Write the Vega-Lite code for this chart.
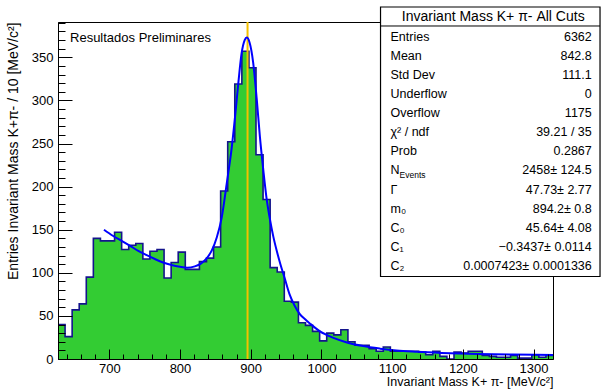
{
  "$schema": "https://vega.github.io/schema/vega-lite/v6.json",
  "width": 495,
  "height": 337,
  "autosize": {"type": "none"},
  "padding": {"left": 58, "top": 22, "right": 49, "bottom": 30},
  "background": "white",
  "config": {"view": {"stroke": "black", "strokeWidth": 1}, "font": "Liberation Sans"},
  "datasets": {
    "bins": [
      {"lo": 627.5, "hi": 637.5, "n": 40}, {"lo": 637.5, "hi": 647.5, "n": 26}, {"lo": 647.5, "hi": 657.5, "n": 57},
      {"lo": 657.5, "hi": 667.5, "n": 64}, {"lo": 667.5, "hi": 677.5, "n": 95}, {"lo": 677.5, "hi": 687.5, "n": 140},
      {"lo": 687.5, "hi": 697.5, "n": 137}, {"lo": 697.5, "hi": 707.5, "n": 137}, {"lo": 707.5, "hi": 717.5, "n": 147},
      {"lo": 717.5, "hi": 727.5, "n": 127}, {"lo": 727.5, "hi": 737.5, "n": 132}, {"lo": 737.5, "hi": 747.5, "n": 134},
      {"lo": 747.5, "hi": 757.5, "n": 116}, {"lo": 757.5, "hi": 767.5, "n": 125}, {"lo": 767.5, "hi": 777.5, "n": 127},
      {"lo": 777.5, "hi": 787.5, "n": 94}, {"lo": 787.5, "hi": 797.5, "n": 112}, {"lo": 797.5, "hi": 807.5, "n": 124},
      {"lo": 807.5, "hi": 817.5, "n": 104}, {"lo": 817.5, "hi": 827.5, "n": 104}, {"lo": 827.5, "hi": 837.5, "n": 113},
      {"lo": 837.5, "hi": 847.5, "n": 117}, {"lo": 847.5, "hi": 857.5, "n": 130}, {"lo": 857.5, "hi": 867.5, "n": 195},
      {"lo": 867.5, "hi": 877.5, "n": 252}, {"lo": 877.5, "hi": 887.5, "n": 319}, {"lo": 887.5, "hi": 897.5, "n": 357},
      {"lo": 897.5, "hi": 907.5, "n": 338}, {"lo": 907.5, "hi": 917.5, "n": 237}, {"lo": 917.5, "hi": 927.5, "n": 185},
      {"lo": 927.5, "hi": 937.5, "n": 106}, {"lo": 937.5, "hi": 947.5, "n": 101}, {"lo": 947.5, "hi": 957.5, "n": 67},
      {"lo": 957.5, "hi": 967.5, "n": 66}, {"lo": 967.5, "hi": 977.5, "n": 42}, {"lo": 977.5, "hi": 987.5, "n": 39},
      {"lo": 987.5, "hi": 997.5, "n": 32}, {"lo": 997.5, "hi": 1007.5, "n": 21}, {"lo": 1007.5, "hi": 1017.5, "n": 30},
      {"lo": 1017.5, "hi": 1027.5, "n": 28}, {"lo": 1027.5, "hi": 1037.5, "n": 34}, {"lo": 1037.5, "hi": 1047.5, "n": 20},
      {"lo": 1047.5, "hi": 1057.5, "n": 16}, {"lo": 1057.5, "hi": 1067.5, "n": 16}, {"lo": 1067.5, "hi": 1077.5, "n": 12},
      {"lo": 1077.5, "hi": 1087.5, "n": 9}, {"lo": 1087.5, "hi": 1097.5, "n": 14}, {"lo": 1097.5, "hi": 1107.5, "n": 9},
      {"lo": 1107.5, "hi": 1117.5, "n": 9}, {"lo": 1117.5, "hi": 1127.5, "n": 9}, {"lo": 1127.5, "hi": 1137.5, "n": 9},
      {"lo": 1137.5, "hi": 1147.5, "n": 8}, {"lo": 1147.5, "hi": 1157.5, "n": 5}, {"lo": 1157.5, "hi": 1167.5, "n": 9},
      {"lo": 1167.5, "hi": 1177.5, "n": 3}, {"lo": 1177.5, "hi": 1187.5, "n": 0}, {"lo": 1187.5, "hi": 1197.5, "n": 8},
      {"lo": 1197.5, "hi": 1207.5, "n": 7}, {"lo": 1207.5, "hi": 1217.5, "n": 9}, {"lo": 1217.5, "hi": 1227.5, "n": 9},
      {"lo": 1227.5, "hi": 1237.5, "n": 4}, {"lo": 1237.5, "hi": 1247.5, "n": 3}, {"lo": 1247.5, "hi": 1257.5, "n": 2},
      {"lo": 1257.5, "hi": 1267.5, "n": 2}, {"lo": 1267.5, "hi": 1277.5, "n": 4}, {"lo": 1277.5, "hi": 1287.5, "n": 1},
      {"lo": 1287.5, "hi": 1297.5, "n": 1}, {"lo": 1297.5, "hi": 1307.5, "n": 5}, {"lo": 1307.5, "hi": 1317.5, "n": 2},
      {"lo": 1317.5, "hi": 1327.5, "n": 4}
    ],
    "fit": [
      {"m": 692.5, "f": 150}, {"m": 705, "f": 143}, {"m": 717.5, "f": 137}, {"m": 730, "f": 131}, {"m": 741, "f": 125.5},
      {"m": 753, "f": 120.5}, {"m": 764.5, "f": 116}, {"m": 776, "f": 112}, {"m": 788, "f": 109}, {"m": 800, "f": 107},
      {"m": 810, "f": 106}, {"m": 821, "f": 107.5}, {"m": 830, "f": 111}, {"m": 838, "f": 117}, {"m": 845, "f": 126},
      {"m": 852, "f": 141}, {"m": 859, "f": 164}, {"m": 866, "f": 203}, {"m": 873, "f": 244}, {"m": 878, "f": 282},
      {"m": 882.5, "f": 320}, {"m": 887, "f": 354}, {"m": 891.5, "f": 370}, {"m": 894.5, "f": 373}, {"m": 898.5, "f": 367},
      {"m": 903.5, "f": 344}, {"m": 908.5, "f": 302}, {"m": 913, "f": 258}, {"m": 918, "f": 218}, {"m": 922.5, "f": 186},
      {"m": 927, "f": 163}, {"m": 932, "f": 142}, {"m": 937, "f": 125}, {"m": 942, "f": 110}, {"m": 948, "f": 94},
      {"m": 955, "f": 75}, {"m": 962, "f": 62}, {"m": 969.5, "f": 52}, {"m": 977, "f": 46}, {"m": 984, "f": 41},
      {"m": 998, "f": 32}, {"m": 1017, "f": 24.5}, {"m": 1035, "f": 19.5}, {"m": 1059, "f": 15}, {"m": 1083, "f": 12},
      {"m": 1106, "f": 9.8}, {"m": 1135, "f": 8.3}, {"m": 1170, "f": 7}, {"m": 1220, "f": 5.8}, {"m": 1270, "f": 5.2},
      {"m": 1327.5, "f": 4.6}
    ],
    "stats": [
      {"row": 1, "label": "Entries", "val": "6362"},
      {"row": 2, "label": "Mean", "val": "842.8"},
      {"row": 3, "label": "Std Dev", "val": "111.1"},
      {"row": 4, "label": "Underflow", "val": "0"},
      {"row": 5, "label": "Overflow", "val": "1175"},
      {"row": 6, "label": "χ² / ndf", "val": "39.21 / 35"},
      {"row": 7, "label": "Prob", "val": "0.2867"},
      {"row": 8, "label": "N", "sub": "Events", "val": "2458± 124.5"},
      {"row": 9, "label": "Γ", "val": "47.73± 2.77"},
      {"row": 10, "label": "m₀", "val": "894.2± 0.8"},
      {"row": 11, "label": "C₀", "val": "45.64± 4.08"},
      {"row": 12, "label": "C₁", "val": "−0.3437± 0.0114"},
      {"row": 13, "label": "C₂", "val": "0.0007423± 0.0001336"}
    ]
  },
  "layer": [
    {
      "layer": [
        {
          "data": {"name": "bins"},
          "transform": [{"fold": ["lo", "hi"], "as": ["edge", "xe"]}],
          "mark": {"type": "area", "fill": "#33cc33", "interpolate": "linear"},
          "encoding": {
            "x": {
              "field": "xe", "type": "quantitative",
              "scale": {"domain": [627.5, 1327.5], "nice": false, "zero": false},
              "axis": {
                "values": [640, 660, 680, 700, 720, 740, 760, 780, 800, 820, 840, 860, 880, 900, 920, 940, 960, 980, 1000, 1020, 1040, 1060, 1080, 1100, 1120, 1140, 1160, 1180, 1200, 1220, 1240, 1260, 1280, 1300, 1320],
                "tickCount": 200,
                "labelExpr": "datum.value % 100 === 0 ? datum.label : ''",
                "format": "d",
                "tickSize": {"condition": {"test": "datum.value % 100 === 0", "value": -10}, "value": -5},
                "tickColor": "black", "tickWidth": 1,
                "domainColor": "black", "domainWidth": 1,
                "labelColor": "black", "labelFont": "Liberation Sans", "labelFontSize": 13, "labelPadding": 13,
                "labelFlush": false, "labelOverlap": false,
                "grid": false,
                "title": "Invariant Mass K+ π- [MeV/c²]",
                "titleFont": "Liberation Sans", "titleFontSize": 12.5, "titleFontWeight": "normal", "titleColor": "black",
                "titleAlign": "right", "titleBaseline": "middle", "titleX": 495, "titleY": 22.5,
                "zindex": 1
              }
            },
            "y": {
              "field": "n", "type": "quantitative",
              "scale": {"domain": [0, 391], "nice": false},
              "axis": {
                "values": [0, 10, 20, 30, 40, 50, 60, 70, 80, 90, 100, 110, 120, 130, 140, 150, 160, 170, 180, 190, 200, 210, 220, 230, 240, 250, 260, 270, 280, 290, 300, 310, 320, 330, 340, 350, 360, 370, 380, 390],
                "tickCount": 200,
                "labelExpr": "datum.value % 50 === 0 ? datum.label : ''",
                "format": "d",
                "tickSize": {"condition": {"test": "datum.value % 50 === 0", "value": -14}, "value": -7},
                "tickColor": "black", "tickWidth": 1,
                "domainColor": "black", "domainWidth": 1,
                "labelColor": "black", "labelFont": "Liberation Sans", "labelFontSize": 13, "labelPadding": 19,
                "labelFlush": false, "labelOverlap": false,
                "grid": false,
                "title": "Entries Invariant Mass K+π- / 10 [MeV/c²]",
                "titleFont": "Liberation Sans", "titleFontSize": 14, "titleFontWeight": "normal", "titleColor": "black",
                "titleAngle": -90, "titleAlign": "right", "titleBaseline": "middle", "titleX": -45, "titleY": 0,
                "zindex": 1
              }
            },
            "y2": {"datum": 0},
            "order": [{"field": "xe", "type": "quantitative"}, {"field": "edge", "type": "nominal"}]
          }
        },
        {
          "data": {"name": "bins"},
          "transform": [{"fold": ["lo", "hi"], "as": ["edge", "xe"]}],
          "mark": {"type": "line", "stroke": "#14148c", "strokeWidth": 1.6, "interpolate": "linear"},
          "encoding": {
            "x": {"field": "xe", "type": "quantitative"},
            "y": {"field": "n", "type": "quantitative"},
            "order": [{"field": "xe", "type": "quantitative"}, {"field": "edge", "type": "nominal"}]
          }
        },
        {
          "data": {"values": [{"mpdg": 895.55}]},
          "mark": {"type": "rule", "stroke": "#f5c000", "strokeWidth": 2},
          "encoding": {"x": {"field": "mpdg", "type": "quantitative"}}
        },
        {
          "data": {"name": "fit"},
          "mark": {"type": "line", "stroke": "#0000ff", "strokeWidth": 2, "interpolate": "monotone"},
          "encoding": {
            "x": {"field": "m", "type": "quantitative"},
            "y": {"field": "f", "type": "quantitative"}
          }
        },
        {
          "data": {"values": [{"t": "Resultados Preliminares"}]},
          "mark": {"type": "text", "align": "left", "baseline": "middle", "fontSize": 13, "font": "Liberation Sans", "color": "black"},
          "encoding": {
            "text": {"field": "t"},
            "x": {"datum": 644.5, "type": "quantitative"},
            "y": {"datum": 372.5, "type": "quantitative"}
          }
        }
      ]
    },
    {
      "layer": [
        {
          "data": {"values": [{}]},
          "mark": {"type": "rect", "fill": "white", "stroke": "black", "strokeWidth": 1.2},
          "encoding": {
            "x": {"datum": 1083.6, "type": "quantitative", "scale": {"domain": [627.5, 1327.5], "nice": false, "zero": false}},
            "x2": {"datum": 1394},
            "y": {"datum": -0.554, "type": "quantitative", "axis": null, "scale": {"domain": [1, 13], "range": [14.7, 244], "nice": false, "zero": false}},
            "y2": {"datum": 13.55}
          }
        },
        {
          "data": {"values": [{}]},
          "mark": {"type": "rule", "stroke": "black", "strokeWidth": 1},
          "encoding": {
            "x": {"datum": 1083.6, "type": "quantitative"},
            "x2": {"datum": 1394},
            "y": {"datum": 0.44, "type": "quantitative", "axis": null}
          }
        },
        {
          "data": {"values": [{"t": "Invariant Mass K+ π- All Cuts"}]},
          "mark": {"type": "text", "align": "center", "baseline": "middle", "fontSize": 14, "font": "Liberation Sans", "color": "black"},
          "encoding": {
            "text": {"field": "t"},
            "x": {"datum": 1243, "type": "quantitative"},
            "y": {"datum": -0.05, "type": "quantitative", "axis": null}
          }
        },
        {
          "data": {"name": "stats"},
          "mark": {"type": "text", "align": "left", "baseline": "middle", "fontSize": 12.5, "font": "Liberation Sans", "color": "black"},
          "encoding": {
            "text": {"field": "label"},
            "x": {"datum": 1097.7, "type": "quantitative"},
            "y": {"field": "row", "type": "quantitative", "axis": null}
          }
        },
        {
          "data": {"name": "stats"},
          "transform": [{"filter": "datum.sub"}],
          "mark": {"type": "text", "align": "left", "baseline": "middle", "fontSize": 8.5, "dy": 5, "font": "Liberation Sans", "color": "black"},
          "encoding": {
            "text": {"field": "sub"},
            "x": {"datum": 1110.5, "type": "quantitative"},
            "y": {"field": "row", "type": "quantitative", "axis": null}
          }
        },
        {
          "data": {"name": "stats"},
          "mark": {"type": "text", "align": "right", "baseline": "middle", "fontSize": 12.5, "font": "Liberation Sans", "color": "black"},
          "encoding": {
            "text": {"field": "val"},
            "x": {"datum": 1382.3, "type": "quantitative"},
            "y": {"field": "row", "type": "quantitative", "axis": null}
          }
        }
      ]
    }
  ],
  "resolve": {"scale": {"y": "independent"}}
}
